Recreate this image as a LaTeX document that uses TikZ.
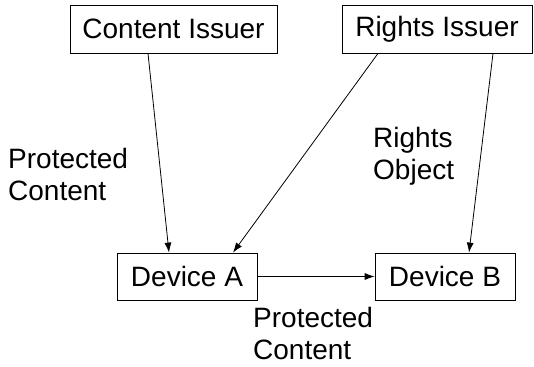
\documentclass[tikz,border=0pt]{standalone}
\usepackage{fontspec}
\setmainfont{Liberation Sans}
\usetikzlibrary{arrows.meta}
\begin{document}
\begin{tikzpicture}[x=1pt,y=-1pt,
  box/.style={draw=black,line width=0.8pt,minimum height=48pt,inner sep=0pt,
    font=\fontsize{28}{32.5}\selectfont},
  flow/.style={line width=0.8pt,-{Latex[length=10pt,width=7pt]}},
  lbl/.style={anchor=north west,inner sep=0pt,align=left,
    font=\fontsize{28}{32.5}\selectfont}]
\useasboundingbox (0,0) rectangle (534,366);

% parties
\node[box,minimum width=207pt] (ci) at (173.5,29) {Content Issuer};
\node[box,minimum width=190pt] (ri) at (437,29) {Rights Issuer};
\node[box,minimum width=140pt,minimum height=47pt] (da) at (187,276.5) {Device A};
\node[box,minimum width=140pt,minimum height=47pt] (db) at (445,276.5) {Device B};

% transfers
\draw[flow] ([xshift=-25.5pt]ci.south) -- ([xshift=-18pt]da.north);
\draw[flow] ([xshift=-59pt]ri.south) -- ([xshift=46pt]da.north);
\draw[flow] ([xshift=56pt]ri.south) -- ([xshift=24pt]db.north);
\draw[flow] (da.east) -- (db.west);

% what is transferred
\node[lbl] (pc1) at (8,148) {Protected\\Content};
\node[lbl] (ro) at (373,127) {Rights\\Object};
\node[lbl] (pc2) at (253,307) {Protected\\Content};
\end{tikzpicture}
\end{document}
